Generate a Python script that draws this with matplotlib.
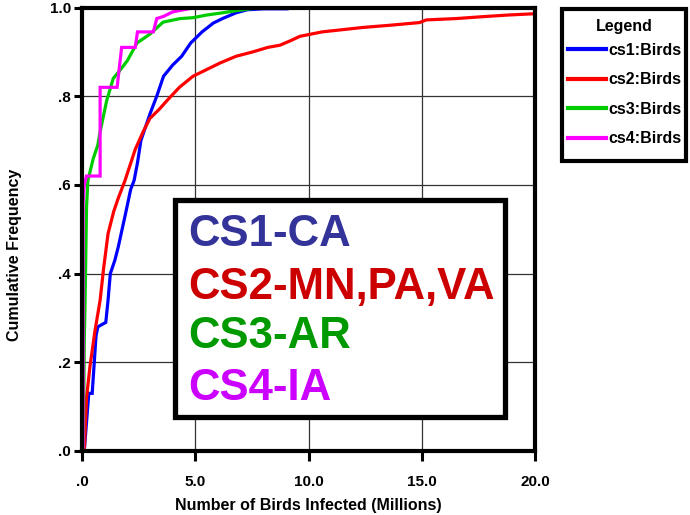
import matplotlib
matplotlib.use("Agg")
import matplotlib.pyplot as plt
from matplotlib.patches import Rectangle

plt.rcParams['font.family'] = ['Liberation Sans', 'DejaVu Sans']
plt.rcParams['font.weight'] = 'bold'

# ---- data ----
cs1_x = [0.10, 0.30, 0.45, 0.62, 0.70, 1.05, 1.15, 1.25, 1.45, 1.60, 1.90, 2.15, 2.30, 2.45, 2.60,
         3.00, 3.30, 3.60, 4.00, 4.40, 4.80, 5.30, 5.80, 6.20, 6.80, 7.30, 8.00, 9.05]
cs1_y = [0.00, 0.13, 0.13, 0.26, 0.28, 0.29, 0.34, 0.40, 0.43, 0.46, 0.53, 0.59, 0.61, 0.65, 0.70,
         0.76, 0.80, 0.845, 0.87, 0.89, 0.92, 0.945, 0.965, 0.975, 0.988, 0.995, 0.997, 0.997]

cs2_x = [0.10, 0.20, 0.35, 0.57, 0.80, 0.95, 1.15, 1.40, 1.60, 1.90, 2.35, 2.70, 3.00, 3.40, 3.75,
         4.30, 4.90, 5.50, 6.10, 6.80, 7.55, 8.20, 8.74, 9.20, 9.62, 10.60, 11.50, 12.40, 13.60,
         14.90, 15.20, 16.50, 17.60, 18.80, 20.0]
cs2_y = [0.00, 0.12, 0.19, 0.27, 0.34, 0.41, 0.49, 0.54, 0.57, 0.61, 0.68, 0.72, 0.75, 0.77, 0.79,
         0.82, 0.845, 0.86, 0.875, 0.89, 0.90, 0.91, 0.915, 0.925, 0.935, 0.945, 0.950, 0.955, 0.960,
         0.966, 0.972, 0.975, 0.979, 0.983, 0.986]

cs3_x = [0.06, 0.10, 0.13, 0.20, 0.26, 0.50, 0.70, 0.80, 1.09, 1.38, 1.70, 2.00, 2.43, 3.00, 3.58,
         4.33, 4.90, 5.50, 6.20, 6.70, 7.70, 13.6]
cs3_y = [0.00, 0.25, 0.32, 0.55, 0.61, 0.66, 0.69, 0.72, 0.79, 0.84, 0.86, 0.88, 0.92, 0.94, 0.967,
         0.975, 0.977, 0.983, 0.988, 0.992, 0.999, 0.999]

cs4_x = [0.05, 0.05, 0.10, 0.20, 0.80, 0.80, 1.55, 1.75, 2.35, 2.45, 3.15, 3.30, 3.60, 4.00, 4.90, 5.95]
cs4_y = [0.00, 0.56, 0.60, 0.62, 0.62, 0.82, 0.82, 0.91, 0.91, 0.945, 0.945, 0.975, 0.980, 0.990, 0.999, 0.999]

series_x = [cs1_x, cs2_x, cs3_x, cs4_x]
series_y = [cs1_y, cs2_y, cs3_y, cs4_y]
labels = ['cs1:Birds', 'cs2:Birds', 'cs3:Birds', 'cs4:Birds']
line_colors = ['#0000ff', '#ff0000', '#00cc00', '#ff00ff']

box_texts = ['CS1-CA', 'CS2-MN,PA,VA', 'CS3-AR', 'CS4-IA']
box_colors = ['#333399', '#cc0000', '#009900', '#cc00ff']

xticks = [0, 5, 10, 15, 20]
xtick_labels = ['.0', '5.0', '10.0', '15.0', '20.0']
yticks = [0, 0.2, 0.4, 0.6, 0.8, 1.0]
ytick_labels = ['.0', '.2', '.4', '.6', '.8', '1.0']

W, H = 690, 515
fig = plt.figure(figsize=(W / 100, H / 100), dpi=100)
ax = fig.add_axes([82 / W, 1 - 451 / H, (535 - 82) / W, (451 - 7.5) / H])

handles = []
for x, y, lab, c in zip(series_x, series_y, labels, line_colors):
    h, = ax.plot(x, y, color=c, lw=2.3, label=lab, solid_joinstyle='miter')
    handles.append(h)

ax.set_xlim(0, 20)
ax.set_ylim(0, 1.0)
ax.set_xticks(xticks)
ax.set_xticklabels(xtick_labels)
ax.set_yticks(yticks)
ax.set_yticklabels(ytick_labels)
ax.grid(True, color='#333333', lw=0.9)
ax.set_axisbelow(True)
for s in ax.spines.values():
    s.set_linewidth(3)
    s.set_color('black')
ax.tick_params(axis='x', length=7, width=2.2, labelsize=11, pad=10)
ax.tick_params(axis='y', length=6, width=2.2, labelsize=11, pad=2)
for t in ax.get_xticklabels() + ax.get_yticklabels():
    t.set_fontweight('bold')

ax.set_xlabel('Number of Birds Infected (Millions)', fontsize=11.5, fontweight='bold', labelpad=7)
ax.set_ylabel('Cumulative Frequency', fontsize=11.5, fontweight='bold')
ax.yaxis.set_label_coords(-0.133, 0.442)

# annotation box
fig.patches.append(Rectangle((175 / W, 1 - 416.5 / H), (505 - 175) / W, (416.5 - 199.5) / H,
                             transform=fig.transFigure, facecolor='white', edgecolor='black',
                             lw=3.8, zorder=5))
ys = [235, 287, 337, 388]
for txt, col, yy in zip(box_texts, box_colors, ys):
    fig.text(188 / W, 1 - yy / H, txt, color=col, fontsize=31.5, fontweight='bold',
             va='center', ha='left', zorder=6)

# legend frame + title + entries
fig.patches.append(Rectangle((562 / W, 1 - 160.5 / H), (686 - 562) / W, (160.5 - 8.5) / H,
                             transform=fig.transFigure, facecolor='white', edgecolor='black',
                             lw=3, zorder=1))
fig.text(624 / W, 1 - 27 / H, 'Legend', fontsize=11.5, fontweight='bold',
         ha='center', va='center', zorder=3)
leg = fig.legend(handles=handles, labels=labels, loc='upper left',
                 bbox_to_anchor=(568 / W, 1 - 43 / H), borderaxespad=0, frameon=False,
                 prop={'weight': 'bold', 'size': 11.5},
                 handlelength=2.4, handletextpad=0.12, labelspacing=0.9,
                 borderpad=0)
leg.set_zorder(4)
for l in leg.get_lines():
    l.set_linewidth(3)

fig.savefig('out.png', dpi=100)
